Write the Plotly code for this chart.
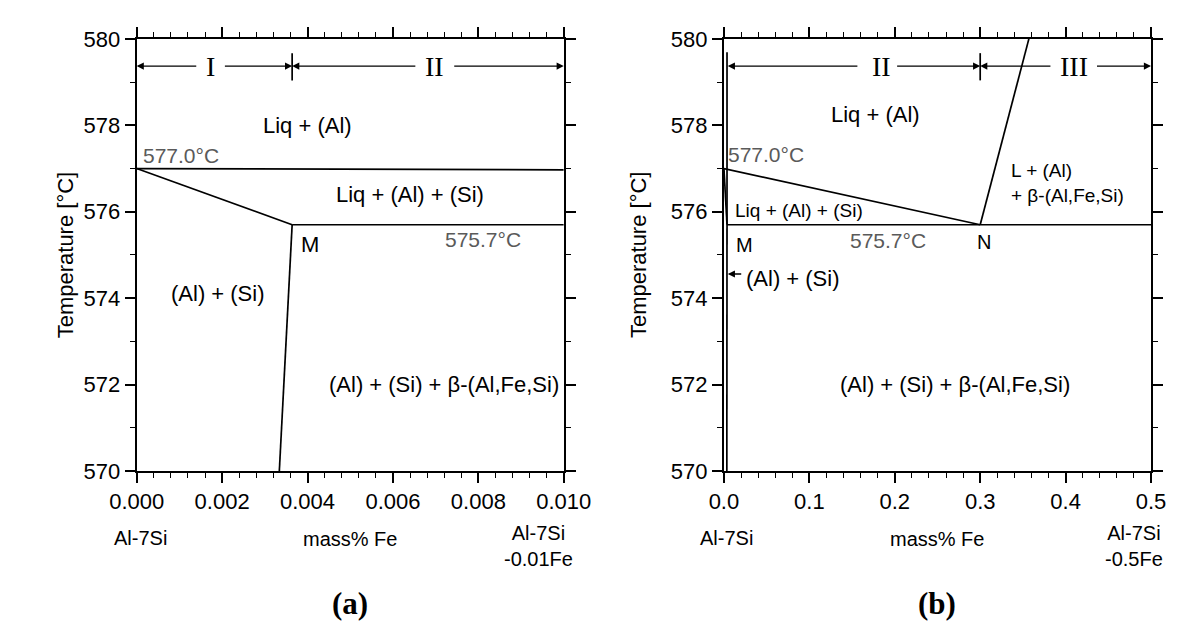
import plotly.graph_objects as go

# ---------------- data ----------------
# panel (a): 0 - 0.010 mass% Fe
a_top_x = [0.0, 0.010]
a_top_y = [577.0, 576.97]
a_liq_x = [0.0, 0.00364]
a_liq_y = [577.0, 575.7]
a_eut_x = [0.00364, 0.010]
a_eut_y = [575.7, 575.7]
a_sol_x = [0.00364, 0.00334]
a_sol_y = [575.7, 570.0]
a_div_x = [0.00364, 0.00364]

# panel (b): 0 - 0.5 mass% Fe
b_liq_x = [0.0, 0.30]
b_liq_y = [577.0, 575.7]
b_m_x = [0.0, 0.0036]
b_m_y = [577.0, 575.7]
b_eut_x = [0.0036, 0.5]
b_eut_y = [575.7, 575.7]
b_sol_x = [0.0036, 0.0034]
b_sol_y = [575.7, 570.0]
b_vert_x = [0.0036, 0.0036]
b_vert_y = [579.69, 575.7]
b_n_x = [0.30, 0.357]
b_n_y = [575.7, 580.0]
b_div_x = [0.30, 0.30]

div_y = [579.04, 579.67]
arrow_y = 579.37

a_xticks = [0.000, 0.002, 0.004, 0.006, 0.008, 0.010]
b_xticks = [0.0, 0.1, 0.2, 0.3, 0.4, 0.5]
y_ticks = [570, 572, 574, 576, 578, 580]

FONT = "Liberation Sans"
SERIF = "Liberation Serif"
GRAY = "#5a5a5a"

fig = go.Figure()


def seg(xs, ys, xa, ya, w=1.7):
    fig.add_trace(go.Scatter(x=xs, y=ys, mode="lines",
                             line=dict(color="black", width=w),
                             xaxis=xa, yaxis=ya, showlegend=False,
                             hoverinfo="skip"))


# panel (a)
seg(a_top_x, a_top_y, "x", "y")
seg(a_liq_x, a_liq_y, "x", "y")
seg(a_eut_x, a_eut_y, "x", "y")
seg(a_sol_x, a_sol_y, "x", "y")
seg(a_div_x, div_y, "x", "y")

# panel (b)
seg(b_liq_x, b_liq_y, "x2", "y2")
seg(b_m_x, b_m_y, "x2", "y2")
seg(b_eut_x, b_eut_y, "x2", "y2")
seg(b_sol_x, b_sol_y, "x2", "y2")
seg(b_vert_x, b_vert_y, "x2", "y2")
seg(b_n_x, b_n_y, "x2", "y2")
seg(b_div_x, div_y, "x2", "y2")

ann = []


def txt(x, y, s, xr, yr, size=22, color="black", xanchor="center",
        yanchor="middle", family=FONT):
    ann.append(dict(x=x, y=y, xref=xr, yref=yr, text=s, showarrow=False,
                    xanchor=xanchor, yanchor=yanchor,
                    font=dict(family=family, size=size, color=color)))


def arr(x0, x1, y, xr, yr):
    # arrow from x0 to x1 with head at x1
    ann.append(dict(x=x1, y=y, ax=x0, ay=y, xref=xr, yref=yr, axref=xr,
                    ayref=yr, text="", showarrow=True, arrowhead=2,
                    arrowsize=1.1, arrowwidth=1.3, arrowcolor="black"))


# region labels (a)
txt(0.0040, 578.0, "Liq + (Al)", "x", "y")
txt(0.0001, 577.3, "577.0°C", "x", "y", size=21, color=GRAY, xanchor="left")
txt(0.0064, 576.4, "Liq + (Al) + (Si)", "x", "y")
txt(0.0081, 575.35, "575.7°C", "x", "y", size=21, color=GRAY)
txt(0.0038, 575.25, "M", "x", "y", xanchor="left")
txt(0.0019, 574.1, "(Al) + (Si)", "x", "y")
txt(0.0072, 572.0, "(Al) + (Si) + β-(Al,Fe,Si)", "x", "y")
txt(0.00172, arrow_y, "I", "x", "y", size=28, family=SERIF)
txt(0.00698, arrow_y, "II", "x", "y", size=28, family=SERIF)
arr(0.00143, 0.0, arrow_y, "x", "y")
arr(0.00203, 0.00364, arrow_y, "x", "y")
arr(0.00656, 0.00364, arrow_y, "x", "y")
arr(0.0074, 0.010, arrow_y, "x", "y")

# region labels (b)
txt(0.178, 578.25, "Liq + (Al)", "x2", "y2")
txt(0.003, 577.32, "577.0°C", "x2", "y2", size=21, color=GRAY, xanchor="left")
txt(0.011, 576.02, "Liq + (Al) + (Si)", "x2", "y2", size=19, xanchor="left")
txt(0.012, 575.24, "M", "x2", "y2", size=20, xanchor="left")
txt(0.192, 575.33, "575.7°C", "x2", "y2", size=21, color=GRAY)
txt(0.304, 575.29, "N", "x2", "y2", size=20)
txt(0.334, 576.95, "L + (Al)", "x2", "y2", size=19, xanchor="left")
txt(0.334, 576.38, "+ β-(Al,Fe,Si)", "x2", "y2", size=19, xanchor="left")
txt(0.024, 574.45, "(Al) + (Si)", "x2", "y2", size=22, xanchor="left")
txt(0.27, 572.0, "(Al) + (Si) + β-(Al,Fe,Si)", "x2", "y2")
txt(0.184, arrow_y, "II", "x2", "y2", size=28, family=SERIF)
txt(0.41, arrow_y, "III", "x2", "y2", size=28, family=SERIF)
arr(0.158, 0.0045, arrow_y, "x2", "y2")
arr(0.201, 0.30, arrow_y, "x2", "y2")
arr(0.384, 0.30, arrow_y, "x2", "y2")
arr(0.435, 0.5, arrow_y, "x2", "y2")
arr(0.022, 0.0045, 574.56, "x2", "y2")

# under-axis labels (y in pixels from top, converted below)
txt(0.0001, 548, "Al-7Si", "x", "paper", size=20)
txt(0.005, 549, "mass% Fe", "x", "paper", size=20)
txt(0.0094, 556, "Al-7Si<br>-0.01Fe", "x", "paper", size=20)
txt(0.003, 548, "Al-7Si", "x2", "paper", size=20)
txt(0.25, 549, "mass% Fe", "x2", "paper", size=20)
txt(0.48, 556, "Al-7Si<br>-0.5Fe", "x2", "paper", size=20)
txt(0.005, 616, "<b>(a)</b>", "x", "paper", size=31, family=SERIF)
txt(0.25, 616, "<b>(b)</b>", "x2", "paper", size=31, family=SERIF)

# y-axis titles
for xp in [25, 641]:
    ann.append(dict(x=xp / 1200, y=1 - 253 / 632, xref="paper", yref="paper",
                    text="Temperature [°C]", textangle=-90, showarrow=False,
                    font=dict(family=FONT, size=22, color="black")))

for a in ann:
    if a.get("yref") == "paper" and a["y"] > 1.5:
        a["y"] = 1 - a["y"] / 632

common = dict(showline=True, linecolor="black", linewidth=2, mirror="allticks",
              ticks="outside", ticklen=10, tickwidth=1.5, tickcolor="black",
              showgrid=False, zeroline=False,
              tickfont=dict(family=FONT, size=22, color="black"))

ydom = [1 - 478 / 632, 1 - 28 / 632]
fig.update_layout(
    width=1200, height=632, margin=dict(l=0, r=0, t=0, b=0),
    paper_bgcolor="white", plot_bgcolor="white", showlegend=False,
    xaxis=dict(domain=[114 / 1200, 562 / 1200], range=[0, 0.010], anchor="y",
               tickvals=a_xticks, tickformat=".3f",
               minor=dict(dtick=0.0004, tick0=0, ticks="outside", ticklen=5,
                          tickcolor="black", tickwidth=1.2), **common),
    yaxis=dict(domain=ydom, range=[570, 580], anchor="x", tickvals=y_ticks,
               minor=dict(dtick=1, tick0=570, ticks="outside", ticklen=5,
                          tickcolor="black", tickwidth=1.2), **common),
    xaxis2=dict(domain=[730 / 1200, 1178 / 1200], range=[0, 0.5], anchor="y2",
                tickvals=b_xticks, tickformat=".1f",
                minor=dict(dtick=0.02, tick0=0, ticks="outside", ticklen=5,
                           tickcolor="black", tickwidth=1.2), **common),
    yaxis2=dict(domain=ydom, range=[570, 580], anchor="x2", tickvals=y_ticks,
                minor=dict(dtick=1, tick0=570, ticks="outside", ticklen=5,
                           tickcolor="black", tickwidth=1.2), **common),
    annotations=ann,
)

fig.write_html("out.html")
